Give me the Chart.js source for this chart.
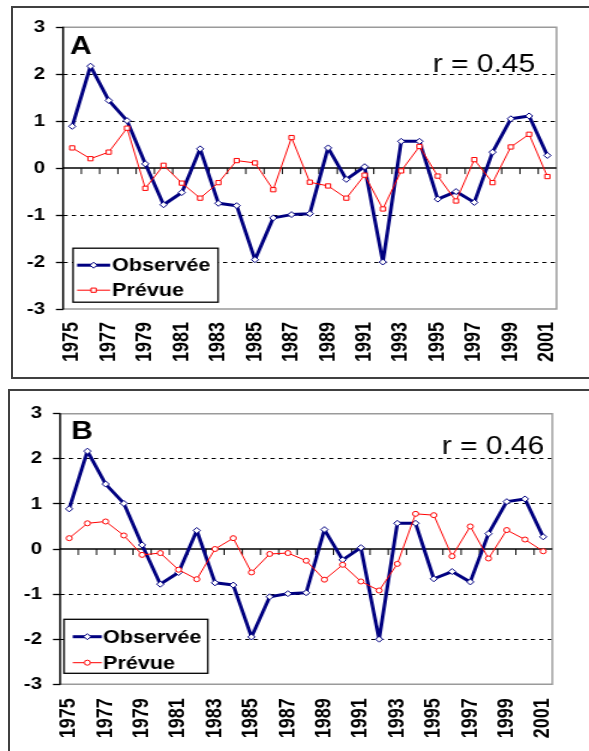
<!DOCTYPE html>
<html>
<head>
<meta charset="utf-8">
<script src="https://cdn.jsdelivr.net/npm/chart.js@4.4.1/dist/chart.umd.min.js"></script>
<style>
  html, body { margin: 0; padding: 0; background: #fff; width: 589px; height: 751px; overflow: hidden; }
  .panel { position: absolute; border: 2px solid #404040; background: #fff; overflow: hidden; }
  #panelA { left: 11px; top: 6px; width: 600px; height: 369px; }
  #panelB { left: 8px; top: 389px; width: 600px; height: 380px; }
  .wrap { position: absolute; left: 0; top: 0; width: 480px; transform: scaleX(1.2); transform-origin: 0 0; }
  #panelA .wrap { height: 369px; }
  #panelB .wrap { height: 360px; }
</style>
</head>
<body>
<div class="panel" id="panelA"><div class="wrap"><canvas id="chartA"></canvas></div></div>
<div class="panel" id="panelB"><div class="wrap"><canvas id="chartB"></canvas></div></div>
<script>
// Years on the category axis
const years = ['1975','1976','1977','1978','1979','1980','1981','1982','1983','1984',
               '1985','1986','1987','1988','1989','1990','1991','1992','1993','1994',
               '1995','1996','1997','1998','1999','2000','2001'];

// Observed anomaly (same in both panels)
const observed = [0.89, 2.17, 1.44, 1.01, 0.09, -0.78, -0.52, 0.41, -0.75, -0.80,
                  -1.95, -1.06, -0.99, -0.97, 0.43, -0.24, 0.03, -2.00, 0.57, 0.57,
                  -0.66, -0.50, -0.73, 0.34, 1.05, 1.11, 0.27];

// Forecasts, model A and model B
const forecastA = [0.43, 0.20, 0.34, 0.85, -0.43, 0.06, -0.32, -0.64, -0.31, 0.16,
                   0.11, -0.46, 0.65, -0.30, -0.38, -0.64, -0.15, -0.87, -0.06, 0.46,
                   -0.17, -0.70, 0.18, -0.31, 0.45, 0.72, -0.18];
const forecastB = [0.24, 0.57, 0.61, 0.30, -0.13, -0.09, -0.46, -0.67, 0.00, 0.24,
                   -0.52, -0.11, -0.09, -0.26, -0.68, -0.35, -0.72, -0.92, -0.33, 0.78,
                   0.75, -0.16, 0.50, -0.21, 0.42, 0.21, -0.05];

// Y axis ticks and series names
const yTicks = [-3, -2, -1, 0, 1, 2, 3];
const seriesNames = ['Observée', 'Prévue'];
const corrA = 'r = 0.45';
const corrB = 'r = 0.46';

const FONT = '"Liberation Sans", Arial, Helvetica, sans-serif';
const NAVY = '#000080';
const RED = '#ff0000';

function drawMarker(ctx, style, x, y, r, color) {
  ctx.beginPath();
  if (style === 'rectRot') {
    ctx.moveTo(x, y - r); ctx.lineTo(x + r, y); ctx.lineTo(x, y + r); ctx.lineTo(x - r, y); ctx.closePath();
  } else if (style === 'rect') {
    const s = r * Math.SQRT1_2;
    ctx.rect(x - s, y - s, 2 * s, 2 * s);
  } else {
    ctx.arc(x, y, r, 0, Math.PI * 2);
  }
  ctx.fillStyle = '#fff';
  ctx.fill();
  ctx.lineWidth = 1;
  ctx.strokeStyle = color;
  ctx.stroke();
}

// Plot frame, zero line with its category ticks, and the value axis line
const framePlugin = {
  id: 'frame',
  beforeDatasetsDraw(chart) {
    const { ctx, chartArea: a, scales: { x, y } } = chart;
    ctx.save();
    ctx.strokeStyle = '#9a9a9a';
    ctx.lineWidth = 1.5;
    ctx.beginPath();
    ctx.moveTo(a.left, a.top); ctx.lineTo(a.right, a.top);
    ctx.lineTo(a.right, a.bottom); ctx.lineTo(a.left, a.bottom);
    ctx.stroke();

    const y0 = y.getPixelForValue(0);
    ctx.strokeStyle = '#000';
    ctx.lineWidth = 1.5;
    ctx.beginPath(); ctx.moveTo(a.left, y0); ctx.lineTo(a.right, y0); ctx.stroke();
    ctx.lineWidth = 1;
    ctx.beginPath();
    for (let i = 1; i < years.length; i++) {
      const px = (x.getPixelForValue(i - 1) + x.getPixelForValue(i)) / 2;
      ctx.moveTo(px, y0); ctx.lineTo(px, y0 + 6);
    }
    ctx.stroke();

    ctx.lineWidth = 1.6;
    ctx.beginPath(); ctx.moveTo(a.left, a.top - 0.5); ctx.lineTo(a.left, a.bottom + 0.5); ctx.stroke();
    ctx.restore();
  }
};

// Panel letter, correlation text and the boxed legend
const notesPlugin = {
  id: 'notes',
  afterDatasetsDraw(chart, args, o) {
    const { ctx, chartArea: a } = chart;
    ctx.save();
    ctx.fillStyle = '#000';
    ctx.textBaseline = 'alphabetic';
    ctx.textAlign = 'left';
    ctx.font = 'bold 25px ' + FONT;
    ctx.fillText(o.letter, a.left + o.letterX, a.top + o.letterY);
    ctx.font = '25px ' + FONT;
    ctx.fillText(o.corr, a.left + o.corrX, a.top + o.corrY);

    const b = o.box;
    ctx.fillStyle = '#fff';
    ctx.fillRect(a.left + b.x0, a.top + b.y0, b.x1 - b.x0, b.y1 - b.y0);
    ctx.strokeStyle = '#000';
    ctx.lineWidth = 1.3;
    ctx.strokeRect(a.left + b.x0, a.top + b.y0, b.x1 - b.x0, b.y1 - b.y0);

    const dss = chart.data.datasets;
    ctx.font = 'bold 18px ' + FONT;
    ctx.textBaseline = 'middle';
    dss.forEach((ds, i) => {
      const ry = a.top + b.rows[i];
      ctx.strokeStyle = ds.borderColor;
      ctx.lineWidth = ds.borderWidth;
      ctx.beginPath();
      ctx.moveTo(a.left + b.lx0, ry); ctx.lineTo(a.left + b.lx1, ry);
      ctx.stroke();
      drawMarker(ctx, ds.pointStyle, a.left + (b.lx0 + b.lx1) / 2, ry, ds.pointRadius, ds.borderColor);
      ctx.fillStyle = '#000';
      ctx.fillText(ds.label, a.left + b.tx, ry + 1);
    });
    ctx.restore();
  }
};

function makeChart(id, forecast, predStyle, predRadius, geom, notes) {
  return new Chart(document.getElementById(id), {
    type: 'line',
    data: {
      labels: years,
      datasets: [
        {
          label: seriesNames[0], data: observed, order: 2,
          borderColor: NAVY, borderWidth: 3, tension: 0, borderJoinStyle: 'round',
          pointStyle: 'rectRot', pointRadius: 3, pointBorderWidth: 1,
          pointBackgroundColor: '#fff', pointBorderColor: NAVY
        },
        {
          label: seriesNames[1], data: forecast, order: 1,
          borderColor: RED, borderWidth: 1, tension: 0, borderJoinStyle: 'round',
          pointStyle: predStyle, pointRadius: predRadius, pointBorderWidth: 1,
          pointBackgroundColor: '#fff', pointBorderColor: RED
        }
      ]
    },
    options: {
      responsive: true,
      maintainAspectRatio: false,
      animation: false,
      devicePixelRatio: 1,
      layout: { padding: { left: 0, right: geom.padRight, top: geom.top, bottom: 0 } },
      plugins: {
        legend: { display: false },
        tooltip: { enabled: false },
        notes: notes
      },
      scales: {
        x: {
          type: 'category',
          offset: true,
          grid: { display: false, drawTicks: false },
          border: { display: false },
          ticks: {
            autoSkip: false, maxRotation: 90, minRotation: 90,
            padding: geom.xPad, color: '#000',
            font: { family: FONT, size: 18, weight: 'bold' },
            callback: function (v, i) { return i % 2 === 0 ? this.getLabelForValue(v) : ''; }
          },
          afterFit: s => { s.height = geom.xHeight; }
        },
        y: {
          min: yTicks[0], max: yTicks[yTicks.length - 1],
          afterBuildTicks: s => { s.ticks = yTicks.map(v => ({ value: v })); },
          ticks: { color: '#000', padding: 9, font: { family: FONT, size: 17, weight: 'bold' } },
          grid: {
            color: c => (Math.abs(c.tick.value) === 1 || Math.abs(c.tick.value) === 2) ? '#000' : 'rgba(0,0,0,0)',
            lineWidth: 1,
            tickColor: '#000', tickLength: 6, tickWidth: 1.3
          },
          border: { display: false, dash: [3.5, 3.5] },
          afterFit: s => { s.width = geom.yWidth; }
        }
      }
    },
    plugins: [framePlugin, notesPlugin]
  });
}

makeChart('chartA', forecastA, 'rect', 3,
  { padRight: 3.3, top: 17, xHeight: 68, yWidth: 41.7, xPad: 13 },
  { letter: 'A', letterX: 5.8, letterY: 26.7, corr: corrA, corrX: 308, corrY: 45,
    box: { x0: 8.3, x1: 129.2, y0: 221, y1: 275, rows: [238, 263], lx0: 11.7, lx1: 39.2, tx: 40.8 } });

makeChart('chartB', forecastB, 'circle', 2.5,
  { padRight: 1.1, top: 22.7, xHeight: 66.7, yWidth: 41.7, xPad: 14 },
  { letter: 'B', letterX: 9.2, letterY: 25.6, corr: corrB, corrX: 318, corrY: 40.3,
    box: { x0: 3.3, x1: 123.1, y0: 205.6, y1: 259.6, rows: [223, 249], lx0: 10.6, lx1: 34.8, tx: 35.8 } });
</script>
</body>
</html>
